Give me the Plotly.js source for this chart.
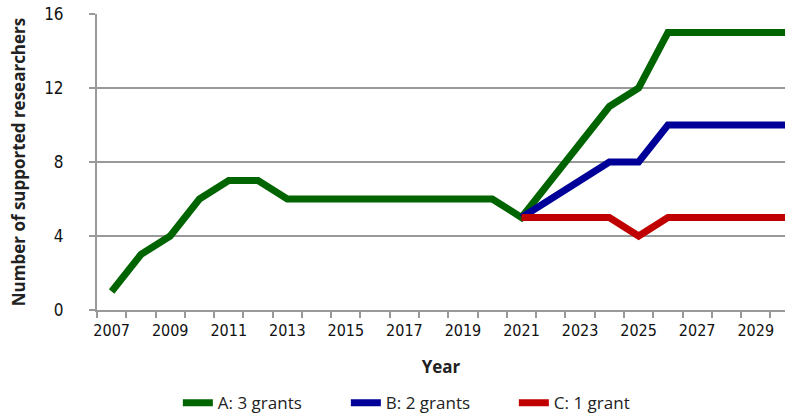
<!DOCTYPE html>
<html>
<head>
<meta charset="utf-8">
<script src="https://cdn.plot.ly/plotly-3.0.1.min.js"></script>
<style>html,body{margin:0;padding:0;background:#fff;}#chart{width:794px;height:419px;}</style>
</head>
<body>
<div id="chart"></div>
<script>
const years = [2007,2008,2009,2010,2011,2012,2013,2014,2015,2016,2017,2018,2019,2020,2021,2022,2023,2024,2025,2026,2027,2028,2029,2030];
const seriesA = [1,3,4,6,7,7,6,6,6,6,6,6,6,6,5,7,9,11,12,15,15,15,15,15];
const seriesB = [null,null,null,null,null,null,null,null,null,null,null,null,null,null,5,6,7,8,8,10,10,10,10,10];
const seriesC = [null,null,null,null,null,null,null,null,null,null,null,null,null,null,5,5,5,5,4,5,5,5,5,5];
const seriesNames = ['A: 3 grants','B: 2 grants','C: 1 grant'];
const xTickVals = [2007,2009,2011,2013,2015,2017,2019,2021,2023,2025,2027,2029];
const yTickVals = [0,4,8,12,16];

const colors = ['#006400','#000099','#c00000'];
const traces = [seriesA, seriesB, seriesC].map((s,i) => ({
  x: years, y: s, type: 'scatter', mode: 'lines', name: seriesNames[i],
  line: {color: colors[i], width: 7}, connectgaps: false, hoverinfo: 'none'
}));

const grid = '#999999';
const layout = {
  width: 794, height: 419,
  margin: {l: 97, r: 9, t: 14, b: 109},
  paper_bgcolor: '#fff', plot_bgcolor: '#fff',
  showlegend: true,
  legend: {orientation: 'h', xref: 'container', yref: 'container', x: 0.224, xanchor: 'left', y: 0.038, yanchor: 'middle',
           font: {family: 'Open Sans', size: 17, color: '#222'}, traceorder: 'normal', entrywidth: 123},
  xaxis: {
    range: [2006.5, 2030], tickmode: 'array', tickvals: xTickVals, ticktext: xTickVals.map(String),
    ticks: '', showgrid: false, showline: true, linecolor: grid, linewidth: 2, zeroline: false,
    tickfont: {family: 'DejaVu Sans Condensed', size: 16, color: '#111'},
    ticklabelstandoff: 5,
    minor: {tickmode: 'linear', tick0: 2006.5, dtick: 1, ticks: 'outside', ticklen: 6, tickcolor: grid, tickwidth: 2, showgrid: false},
    title: {text: 'Year', font: {family: 'Open Sans', size: 17, color: '#222', weight: 'bold'}, standoff: 22}
  },
  yaxis: {
    range: [0, 16], tickmode: 'array', tickvals: yTickVals, ticktext: yTickVals.map(String),
    ticks: 'outside', ticklen: 6, tickcolor: grid, tickwidth: 2,
    showgrid: true, gridcolor: grid, gridwidth: 2, showline: true, linecolor: grid, linewidth: 2, zeroline: false,
    tickfont: {family: 'DejaVu Sans Condensed', size: 17, color: '#111'},
    ticklabelstandoff: 22,
    title: {text: 'Number of supported researchers', font: {family: 'Open Sans', size: 17, color: '#222', weight: 'bold'}, standoff: 14}
  }
};
Plotly.newPlot('chart', traces, layout, {staticPlot: true, displayModeBar: false});
</script>
</body>
</html>
